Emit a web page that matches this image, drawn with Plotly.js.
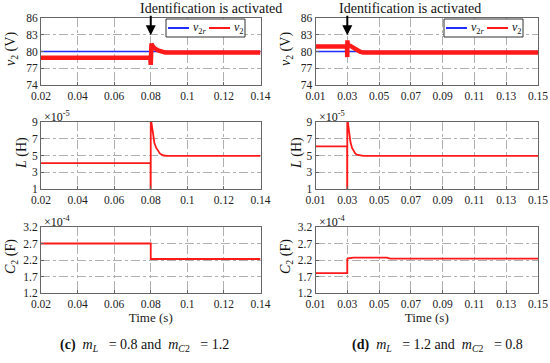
<!DOCTYPE html>
<html>
<head>
<meta charset="utf-8">
<script src="https://cdn.plot.ly/plotly-3.0.1.min.js"></script>
<style>html,body{margin:0;padding:0;background:#fff;}#chart{width:550px;height:363px;}</style>
</head>
<body>
<div id="chart"></div>
<script>
// ---------- data: case (c) m_L = 0.8, m_C2 = 1.2 ----------
const tV2c  = [0.02, 0.05, 0.0798, 0.08, 0.0801, 0.0804, 0.081, 0.082, 0.084, 0.086, 0.088, 0.09, 0.14];
const v2c   = [78.9, 78.8, 78.9, 77.6, 81.0, 81.4, 81.0, 80.6, 80.2, 79.95, 79.8, 79.8, 79.8];
const tRefC = [0.02, 0.14];
const v2rC  = [80, 80];
const tLc   = [0.02, 0.0799, 0.0799, 0.08, 0.08, 0.0805, 0.081, 0.082, 0.083, 0.084, 0.085, 0.086, 0.087, 0.089, 0.14];
const Lc    = [4.1, 4.1, 0.0, 0.0, 9.5, 8.6, 7.6, 6.5, 5.9, 5.5, 5.25, 5.1, 5.0, 4.95, 4.95];
const tCc   = [0.02, 0.08, 0.08, 0.14];
const Cc    = [2.7, 2.7, 2.23, 2.23];

// ---------- data: case (d) m_L = 1.2, m_C2 = 0.8 ----------
const tV2d  = [0.01, 0.0298, 0.03, 0.0301, 0.0303, 0.032, 0.034, 0.036, 0.038, 0.04, 0.15];
const v2d   = [80.9, 80.9, 79.0, 82.0, 81.2, 81.0, 80.6, 80.2, 79.95, 79.8, 79.8];
const tRefD = [0.01, 0.15];
const v2rD  = [80, 80];
const tLd   = [0.01, 0.0299, 0.0299, 0.03, 0.03, 0.0305, 0.031, 0.032, 0.033, 0.034, 0.035, 0.036, 0.038, 0.04, 0.15];
const Ld    = [6.1, 6.1, 0.0, 0.0, 9.5, 8.8, 7.8, 6.6, 5.9, 5.5, 5.25, 5.1, 5.0, 4.95, 4.95];
const tCd   = [0.01, 0.03, 0.03, 0.0305, 0.034, 0.055, 0.057, 0.15];
const Cd    = [1.8, 1.8, 2.23, 2.25, 2.27, 2.27, 2.24, 2.24];

// ---------- ticks ----------
const xTickValsC = [0.02, 0.04, 0.06, 0.08, 0.1, 0.12, 0.14];
const xTickTextC = ['0.02', '0.04', '0.06', '0.08', '0.1', '0.12', '0.14'];
const xTickValsD = [0.01, 0.03, 0.05, 0.07, 0.09, 0.11, 0.13, 0.15];
const xTickTextD = ['0.01', '0.03', '0.05', '0.07', '0.09', '0.11', '0.13', '0.15'];
const v2Ticks = [74, 77, 80, 83, 86];
const LTicks  = [1, 3, 5, 7, 9];
const CTicks  = [1.2, 1.7, 2.2, 2.7, 3.2];
const CTickText = ['1.2', '1.7', '2.2', '2.7', '3.2'];
const legendNames = ['<i>v</i><sub>2<i>r</i></sub>', '<i>v</i><sub>2</sub>'];
const yTitles = ['<i>v</i><sub>2</sub> (V)', '<i>L</i> (H)', '<i>C</i><sub>2</sub> (F)'];

// ---------- styling ----------
const FONT = '"Liberation Serif", "Times New Roman", Times, serif';
const RED = '#ff1a1a', BLUE = '#1f2bff';
const W = 550, H = 363;
const xL = [41 / W, 260.5 / W], xR = [315.5 / W, 538 / W];
const yTop = [1 - 85 / H, 1 - 18 / H], yMid = [1 - 189 / H, 1 - 122 / H], yBot = [1 - 293 / H, 1 - 227 / H];

function xa(domain, anchor, vals, text, range, title) {
  const o = {
    domain: domain, anchor: anchor, range: range, tickvals: vals, ticktext: text,
    showline: true, mirror: true, linecolor: '#666', linewidth: 1,
    ticks: 'inside', ticklen: 3, tickcolor: '#666',
    showgrid: true, gridcolor: '#b0b0b0', griddash: 'dashdot', gridwidth: 1,
    zeroline: false, automargin: false,
    tickfont: {family: FONT, size: 11.5, color: '#222'}
  };
  if (title) o.title = {text: title, font: {family: FONT, size: 13, color: '#222'}, standoff: 3};
  return o;
}
function ya(domain, anchor, vals, text, range) {
  return {
    domain: domain, anchor: anchor, range: range, tickvals: vals, ticktext: text,
    showline: true, mirror: true, linecolor: '#666', linewidth: 1,
    ticks: 'inside', ticklen: 3, tickcolor: '#666',
    showgrid: true, gridcolor: '#b0b0b0', griddash: 'dashdot', gridwidth: 1,
    zeroline: false, automargin: false,
    tickfont: {family: FONT, size: 11.5, color: '#222'}
  };
}

const traces = [
  {x: tRefC, y: v2rC, xaxis: 'x', yaxis: 'y', mode: 'lines', line: {color: BLUE, width: 1.5}, showlegend: false},
  {x: tV2c, y: v2c, xaxis: 'x', yaxis: 'y', mode: 'lines', line: {color: RED, width: 4.5}, showlegend: false},
  {x: tRefD, y: v2rD, xaxis: 'x2', yaxis: 'y2', mode: 'lines', line: {color: BLUE, width: 1.5}, showlegend: false},
  {x: tV2d, y: v2d, xaxis: 'x2', yaxis: 'y2', mode: 'lines', line: {color: RED, width: 4.5}, showlegend: false},
  {x: tLc, y: Lc, xaxis: 'x3', yaxis: 'y3', mode: 'lines', line: {color: RED, width: 1.8}, showlegend: false},
  {x: tLd, y: Ld, xaxis: 'x4', yaxis: 'y4', mode: 'lines', line: {color: RED, width: 1.8}, showlegend: false},
  {x: tCc, y: Cc, xaxis: 'x5', yaxis: 'y5', mode: 'lines', line: {color: RED, width: 1.8}, showlegend: false},
  {x: tCd, y: Cd, xaxis: 'x6', yaxis: 'y6', mode: 'lines', line: {color: RED, width: 1.8}, showlegend: false}
];

const ann = (x, y, text, size, xanchor, angle) => ({
  xref: 'paper', yref: 'paper', x: x / W, y: 1 - y / H, text: text, showarrow: false,
  xanchor: xanchor || 'center', yanchor: 'middle', textangle: angle || 0,
  font: {family: FONT, size: size, color: '#111'}
});

// compact legend boxes (paper pixel placement)
function legendParts(left, top) {
  const shapes = [
    {type: 'rect', xref: 'paper', yref: 'paper', x0: left / W, x1: (left + 79) / W, y0: 1 - (top + 18) / H, y1: 1 - top / H,
     line: {color: '#333', width: 1}, fillcolor: '#fff', layer: 'above'},
    {type: 'line', xref: 'paper', yref: 'paper', x0: (left + 2) / W, x1: (left + 23) / W, y0: 1 - (top + 9) / H, y1: 1 - (top + 9) / H,
     line: {color: BLUE, width: 2}, layer: 'above'},
    {type: 'line', xref: 'paper', yref: 'paper', x0: (left + 43) / W, x1: (left + 64) / W, y0: 1 - (top + 9) / H, y1: 1 - (top + 9) / H,
     line: {color: RED, width: 2}, layer: 'above'}
  ];
  const anns = [
    ann(left + 25, top + 9, legendNames[0], 12, 'left'),
    ann(left + 66, top + 9, legendNames[1], 12, 'left')
  ];
  return {shapes, anns};
}
const lgC = legendParts(166, 19), lgD = legendParts(444, 19);

const layout = {
  width: W, height: H, margin: {l: 0, r: 0, t: 0, b: 0},
  paper_bgcolor: '#fff', plot_bgcolor: '#fff', showlegend: false,
  xaxis: xa(xL, 'y', xTickValsC, xTickTextC, [0.02, 0.14]),
  yaxis: ya(yTop, 'x', v2Ticks, v2Ticks.map(String), [74, 86]),
  xaxis2: xa(xR, 'y2', xTickValsD, xTickTextD, [0.01, 0.15]),
  yaxis2: ya(yTop, 'x2', v2Ticks, v2Ticks.map(String), [74, 86]),
  xaxis3: xa(xL, 'y3', xTickValsC, xTickTextC, [0.02, 0.14]),
  yaxis3: ya(yMid, 'x3', LTicks, LTicks.map(String), [1, 9]),
  xaxis4: xa(xR, 'y4', xTickValsD, xTickTextD, [0.01, 0.15]),
  yaxis4: ya(yMid, 'x4', LTicks, LTicks.map(String), [1, 9]),
  xaxis5: xa(xL, 'y5', xTickValsC, xTickTextC, [0.02, 0.14], 'Time (s)'),
  yaxis5: ya(yBot, 'x5', CTicks, CTickText, [1.2, 3.2]),
  xaxis6: xa(xR, 'y6', xTickValsD, xTickTextD, [0.01, 0.15], 'Time (s)'),
  yaxis6: ya(yBot, 'x6', CTicks, CTickText, [1.2, 3.2]),
  shapes: lgC.shapes.concat(lgD.shapes),
  annotations: [
    ann(211, 8, 'Identification is activated', 14),
    ann(410, 8, 'Identification is activated', 14),
    {xref: 'x', yref: 'y', x: 0.08, y: 82.9, ax: 0, ay: -21, text: '', showarrow: true,
     arrowhead: 2, arrowsize: 1, arrowwidth: 2, arrowcolor: '#000'},
    {xref: 'x2', yref: 'y2', x: 0.03, y: 82.9, ax: 0, ay: -21, text: '', showarrow: true,
     arrowhead: 2, arrowsize: 1, arrowwidth: 2, arrowcolor: '#000'},
    ann(11, 49, yTitles[0], 14, 'center', -90),
    ann(286, 49, yTitles[0], 14, 'center', -90),
    ann(22, 153, yTitles[1], 14, 'center', -90),
    ann(297, 153, yTitles[1], 14, 'center', -90),
    ann(11, 257, yTitles[2], 14, 'center', -90),
    ann(286, 257, yTitles[2], 14, 'center', -90),
    ann(42, 116, '×10<sup>-5</sup>', 12, 'left'),
    ann(316.5, 116, '×10<sup>-5</sup>', 12, 'left'),
    ann(42, 221, '×10<sup>-4</sup>', 12, 'left'),
    ann(316.5, 221, '×10<sup>-4</sup>', 12, 'left'),
    ann(144, 345, '<b>(c)</b>\u00a0\u00a0<i>m</i><sub><i>L</i></sub>\u00a0\u00a0\u00a0= 0.8 and\u00a0\u00a0<i>m</i><sub><i>C</i>2</sub>\u00a0\u00a0\u00a0= 1.2', 14),
    ann(437, 345, '<b>(d)</b>\u00a0\u00a0<i>m</i><sub><i>L</i></sub>\u00a0\u00a0\u00a0= 1.2 and\u00a0\u00a0<i>m</i><sub><i>C</i>2</sub>\u00a0\u00a0\u00a0= 0.8', 14)
  ].concat(lgC.anns, lgD.anns)
};

Plotly.newPlot('chart', traces, layout, {staticPlot: true, displayModeBar: false});
</script>
</body>
</html>
